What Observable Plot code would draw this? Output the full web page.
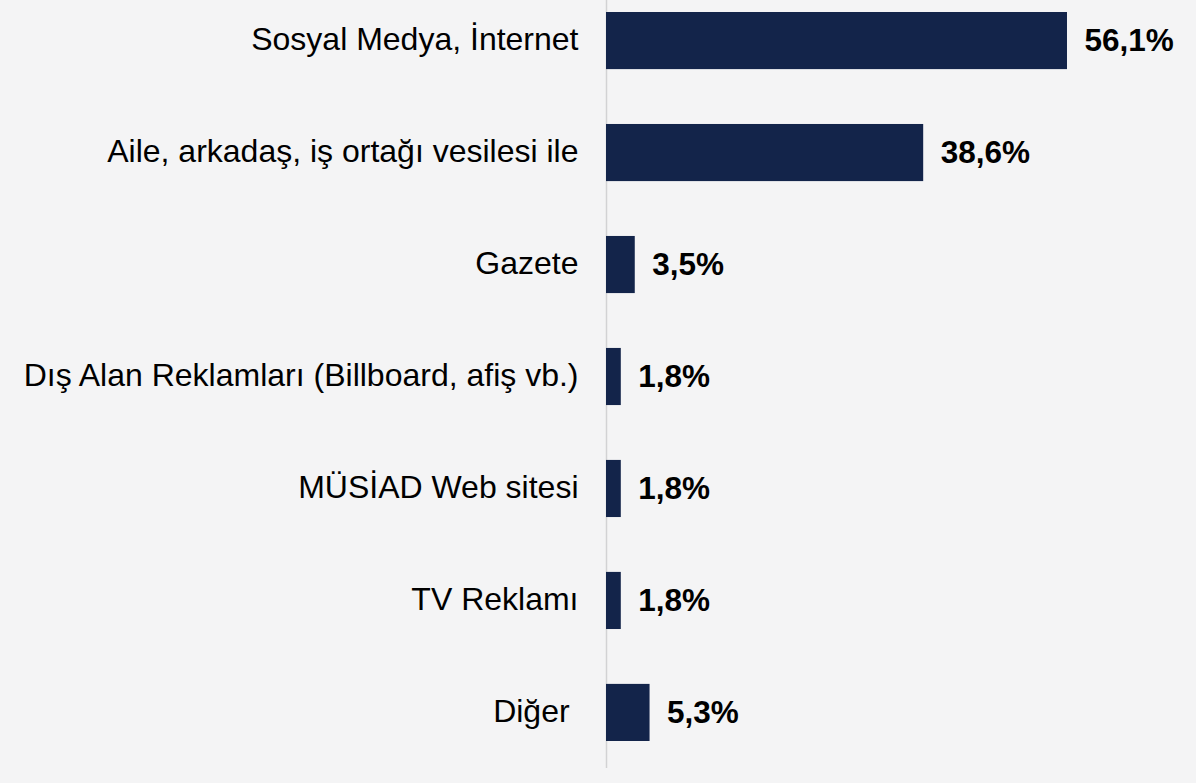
<!DOCTYPE html>
<html>
<head>
<meta charset="utf-8">
<script src="https://cdn.jsdelivr.net/npm/d3@7"></script>
<script src="https://cdn.jsdelivr.net/npm/@observablehq/plot@0.6"></script>
<style>
  html, body { margin: 0; padding: 0; background: #f4f4f5; }
  #chart svg { display: block; background: transparent; }
</style>
</head>
<body>
<div id="chart"></div>
<script>
const categories = [
  "Sosyal Medya, İnternet",
  "Aile, arkadaş, iş ortağı vesilesi ile",
  "Gazete",
  "Dış Alan Reklamları (Billboard, afiş vb.)",
  "MÜSİAD Web sitesi",
  "TV Reklamı",
  "Diğer\u00a0"
];
const values = [56.1, 38.6, 3.5, 1.8, 1.8, 1.8, 5.3];

const data = categories.map((c, i) => ({category: c, value: values[i]}));
const fmt = v => v.toFixed(1).replace(".", ",") + "%";

const chart = Plot.plot({
  width: 1196,
  height: 783,
  marginLeft: 606,
  marginRight: 0,
  marginTop: 0,
  marginBottom: 15,
  style: {fontFamily: "'Liberation Sans', Arial, sans-serif", background: "transparent"},
  x: {domain: [0, 71.8], axis: null},
  y: {domain: categories, range: [12, 741], paddingInner: 0.49, paddingOuter: 0, round: false, axis: null},
  marks: [
    Plot.ruleX([0], {stroke: "#d2d2d4", strokeWidth: 1.5}),
    Plot.barX(data, {x: "value", y: "category", fill: "#13244a"}),
    Plot.text(data, {
      x: 0, y: "category", text: "category",
      textAnchor: "end", dx: -28, dy: -1, fontSize: 32, fill: "#000"
    }),
    Plot.text(data, {
      x: "value", y: "category", text: d => fmt(d.value),
      textAnchor: "start", dx: 17, fontSize: 31.5, fontWeight: "bold", fill: "#000"
    })
  ]
});
document.getElementById("chart").appendChild(chart);
</script>
</body>
</html>
